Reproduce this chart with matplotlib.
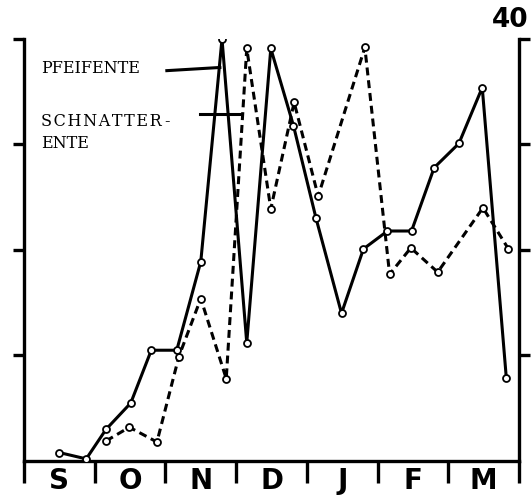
import matplotlib
matplotlib.use("Agg")
import matplotlib.pyplot as plt

# months on the x axis, one unit per month (0 = start of September)
months = ['S', 'O', 'N', 'D', 'J', 'F', 'M']

# Pfeifente (solid line)
pfeif_x = [0.50, 0.88, 1.16, 1.51, 1.80, 2.16, 2.50, 2.80, 3.15, 3.49,
           3.81, 4.13, 4.49, 4.80, 5.14, 5.48, 5.80, 6.15, 6.48, 6.82]
pfeif_y = [0.8, 0.2, 3.0, 5.5, 10.5, 10.5, 18.9, 40.0, 11.2, 39.1,
           31.8, 23.0, 14.0, 20.1, 21.8, 21.8, 27.8, 30.1, 35.4, 7.9]

# Schnatterente (dashed line)
schn_x = [1.16, 1.49, 1.88, 2.19, 2.50, 2.86, 3.15, 3.49, 3.82, 4.16,
          4.82, 5.17, 5.47, 5.85, 6.49, 6.85]
schn_y = [1.9, 3.2, 1.8, 9.9, 15.4, 7.8, 39.1, 23.9, 34.0, 25.1,
          39.2, 17.7, 20.2, 17.9, 24.0, 20.1]

fig = plt.figure(figsize=(5.32, 4.98), dpi=100)
ax = fig.add_axes([0.0451, 0.0743, 0.9305, 0.8474])

mk = dict(marker='o', markersize=5, markerfacecolor='white',
          markeredgecolor='black', markeredgewidth=1.3, color='black')
ax.plot(schn_x, schn_y, lw=2.2, linestyle=(0, (2.6, 1.6)), zorder=3, **mk)
ax.plot(pfeif_x, pfeif_y, lw=2.2, zorder=4, **mk)

# labels with leader lines
serif = dict(family='DejaVu Serif', fontsize=11.5, color='black')
hs = '\u200a'
ax.text(0.24, 36.8, 'PFEIFENTE', ha='left', va='baseline', **serif)
ax.text(0.24, 31.8, hs.join('SCHNATTER') + hs + hs + '-',
        ha='left', va='baseline', **serif)
ax.text(0.24, 29.7, 'ENTE', ha='left', va='baseline', **serif)
ax.plot([2.02, 2.77], [37.0, 37.3], color='black', lw=2.2)
ax.plot([2.49, 3.05], [32.9, 32.9], color='black', lw=2.2)

ax.set_xlim(0, 7)
ax.set_ylim(0, 40)

for side in ['left', 'right', 'bottom']:
    ax.spines[side].set_linewidth(2.4)
ax.spines['top'].set_visible(False)

ax.set_xticks(range(8))
ax.set_xticklabels([])
ax.tick_params(axis='x', which='major', direction='out', length=16, width=2.4)
ax.set_xticks([i + 0.5 for i in range(7)], minor=True)
ax.set_xticklabels(months, minor=True, fontsize=20, fontweight='bold',
                   family='DejaVu Sans')
ax.tick_params(axis='x', which='minor', length=0, pad=4)

ax.set_yticks([10, 20, 30, 40])
ax.set_yticklabels([])
ax.tick_params(axis='y', which='major', direction='out', length=8, width=2.4,
               left=True, right=True)
# longer stub at the top of the left axis
ax.set_yticks([40], minor=True)
ax.set_yticklabels([], minor=True)
ax.tick_params(axis='y', which='minor', direction='out', length=12, width=2.4,
               left=True, right=False)

ax.text(6.88, 41.1, '40', ha='center', va='baseline', fontsize=19,
        fontweight='bold', family='DejaVu Sans', clip_on=False)

fig.savefig('out.png', dpi=100)
